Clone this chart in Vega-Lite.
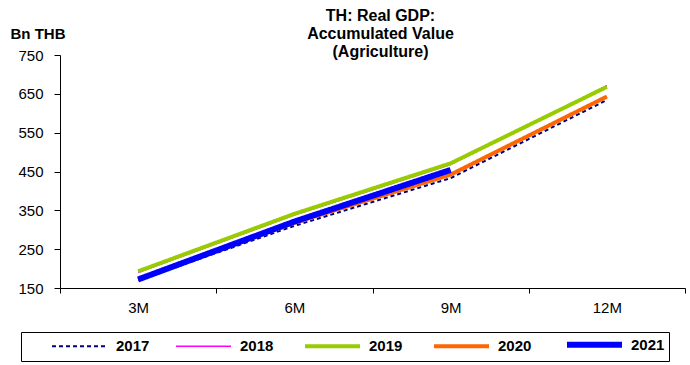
{
  "$schema": "https://vega.github.io/schema/vega-lite/v6.json",
  "width": 625,
  "height": 233,
  "autosize": "none",
  "padding": {"left": 60, "top": 55, "right": 5, "bottom": 77},
  "background": "white",
  "title": {
    "text": ["TH: Real GDP:", "Accumulated Value", "(Agriculture)"],
    "font": "Liberation Sans",
    "fontSize": 16,
    "fontWeight": "bold",
    "lineHeight": 18,
    "anchor": "middle",
    "offset": -4,
    "dy": 30,
    "dx": 8,
    "color": "black"
  },
  "data": {
    "values": [
      {"year": "2017", "period": "3M", "value": 170},
      {"year": "2017", "period": "6M", "value": 310},
      {"year": "2017", "period": "9M", "value": 433},
      {"year": "2017", "period": "12M", "value": 634},
      {"year": "2018", "period": "3M", "value": 190},
      {"year": "2018", "period": "6M", "value": 338},
      {"year": "2018", "period": "9M", "value": 468},
      {"year": "2018", "period": "12M", "value": 671},
      {"year": "2019", "period": "3M", "value": 193},
      {"year": "2019", "period": "6M", "value": 341},
      {"year": "2019", "period": "9M", "value": 471},
      {"year": "2019", "period": "12M", "value": 668},
      {"year": "2020", "period": "3M", "value": 172},
      {"year": "2020", "period": "6M", "value": 318},
      {"year": "2020", "period": "9M", "value": 442},
      {"year": "2020", "period": "12M", "value": 643},
      {"year": "2021", "period": "3M", "value": 172},
      {"year": "2021", "period": "6M", "value": 321},
      {"year": "2021", "period": "9M", "value": 454}
    ]
  },
  "mark": {"type": "line", "strokeJoin": "round"},
  "encoding": {
    "x": {
      "field": "period",
      "type": "ordinal",
      "sort": ["3M", "6M", "9M", "12M"],
      "scale": {"type": "band", "paddingInner": 0, "paddingOuter": 0},
      "axis": {
        "title": null,
        "labelAngle": 0,
        "tickBand": "extent",
        "domainColor": "black",
        "tickColor": "black",
        "tickSize": 5,
        "labelFont": "Liberation Sans",
        "labelFontSize": 15,
        "labelColor": "black",
        "labelPadding": 7,
        "grid": false
      }
    },
    "y": {
      "field": "value",
      "type": "quantitative",
      "scale": {"domain": [150, 750], "nice": false, "zero": false},
      "axis": {
        "values": [150, 250, 350, 450, 550, 650, 750],
        "title": "Bn THB",
        "titleAngle": 0,
        "titleX": -50,
        "titleY": -22,
        "titleAlign": "left",
        "titleBaseline": "middle",
        "titleFont": "Liberation Sans",
        "titleFontWeight": "bold",
        "titleFontSize": 15,
        "titleColor": "black",
        "grid": false,
        "tickSize": 6,
        "labelPadding": 11,
        "domainColor": "black",
        "tickColor": "black",
        "labelFont": "Liberation Sans",
        "labelFontSize": 15,
        "labelColor": "black"
      }
    },
    "color": {
      "field": "year",
      "type": "nominal",
      "scale": {
        "domain": ["2017", "2018", "2019", "2020", "2021"],
        "range": ["#000080", "#FF00FF", "#99CC00", "#FF6600", "#0000FF"]
      },
      "legend": {"title": " "}
    },
    "strokeDash": {
      "field": "year",
      "type": "nominal",
      "scale": {
        "domain": ["2017", "2018", "2019", "2020", "2021"],
        "range": [[4, 3], [1, 0], [1, 0], [1, 0], [1, 0]]
      },
      "legend": {"title": " "}
    },
    "strokeWidth": {
      "field": "year",
      "type": "ordinal",
      "scale": {
        "type": "ordinal",
        "domain": ["2017", "2018", "2019", "2020", "2021"],
        "range": [2, 1.5, 4, 4, 6]
      },
      "legend": {"title": " "}
    }
  },
  "config": {
    "view": {"stroke": null},
    "legend": {
      "orient": "none",
      "legendX": -39,
      "legendY": 277,
      "direction": "horizontal",
      "columns": 5,
      "symbolType": "M-1,0H9",
      "symbolSize": 121,
      "labelFont": "Liberation Sans",
      "labelFontSize": 15,
      "labelFontWeight": "bold",
      "labelColor": "black",
      "labelOffset": 50,
      "columnPadding": 23,
      "strokeColor": "black",
      "fillColor": "white",
      "padding": 4,
      "titleOrient": "left",
      "titleFontSize": 10,
      "titlePadding": 24
    }
  }
}
